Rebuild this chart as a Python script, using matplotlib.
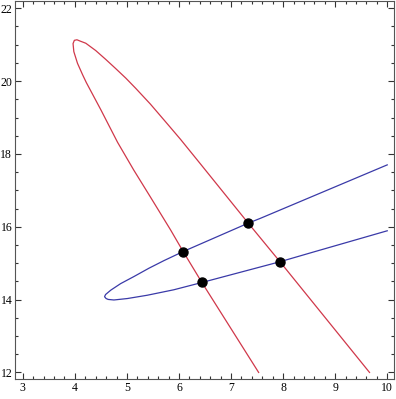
import matplotlib
matplotlib.use("Agg")
import matplotlib.pyplot as plt
from matplotlib.ticker import MultipleLocator

# Red curve, traced from lower right, over the top, to lower left
red_x = [9.66, 8.80, 7.94, 7.33, 6.41, 6.03, 5.78, 5.45, 5.17, 4.98, 4.78, 4.59, 4.40, 4.21, 4.10, 4.04,
         3.99, 3.965, 3.98, 4.05, 4.15, 4.22, 4.50, 4.82, 5.13, 5.45, 5.84, 6.08, 6.44, 7.53]
red_y = [12.00, 13.52, 15.04, 16.10, 17.73, 18.40, 18.82, 19.37, 19.80, 20.08, 20.35, 20.60, 20.84, 21.04, 21.10, 21.135,
         21.12, 21.03, 20.81, 20.49, 20.17, 19.96, 19.21, 18.32, 17.56, 16.82, 15.91, 15.32, 14.47, 12.00]

# Blue curve, upper branch from the right edge, round the vertex, lower branch back to the right
blue_x = [10.00, 7.56, 7.33, 6.08, 5.71, 5.42, 5.13, 4.88, 4.69, 4.59, 4.57,
          4.60, 4.64, 4.75, 5.01, 5.39, 5.90, 6.44, 7.94, 8.59, 10.00]
blue_y = [17.70, 16.23, 16.10, 15.32, 15.07, 14.86, 14.63, 14.44, 14.26, 14.14, 14.08,
          14.03, 14.005, 13.99, 14.03, 14.12, 14.27, 14.47, 15.04, 15.31, 15.89]

# intersection points
pts_x = [6.08, 7.33, 7.94, 6.44]
pts_y = [15.32, 16.10, 15.04, 14.47]

fig = plt.figure(figsize=(3.96, 3.99), dpi=100)
ax = fig.add_axes([15/396, 1 - 379/399, (394 - 15)/396, (379 - 1)/399])

ax.plot(red_x, red_y, color="#d0384a", lw=0.9)
ax.plot(blue_x, blue_y, color="#3a3aa8", lw=0.9)
ax.plot(pts_x, pts_y, "o", color="black", ms=6.5, zorder=5)

ax.set_xlim(2.85, 10.13)
ax.set_ylim(11.82, 22.2)

ax.xaxis.set_major_locator(MultipleLocator(1))
ax.xaxis.set_minor_locator(MultipleLocator(0.2))
ax.yaxis.set_major_locator(MultipleLocator(2))
ax.yaxis.set_minor_locator(MultipleLocator(0.5))
ax.tick_params(which="both", direction="in", top=True, right=True, color="#333333", width=0.8)
ax.tick_params(which="major", length=4.0, labelsize=8.5, pad=2)
ax.tick_params(which="minor", length=2.0)
for lab in ax.get_xticklabels() + ax.get_yticklabels():
    lab.set_family("Liberation Serif")
for s in ax.spines.values():
    s.set_color("#555555")
    s.set_linewidth(0.8)

fig.savefig("out.png", dpi=100)
